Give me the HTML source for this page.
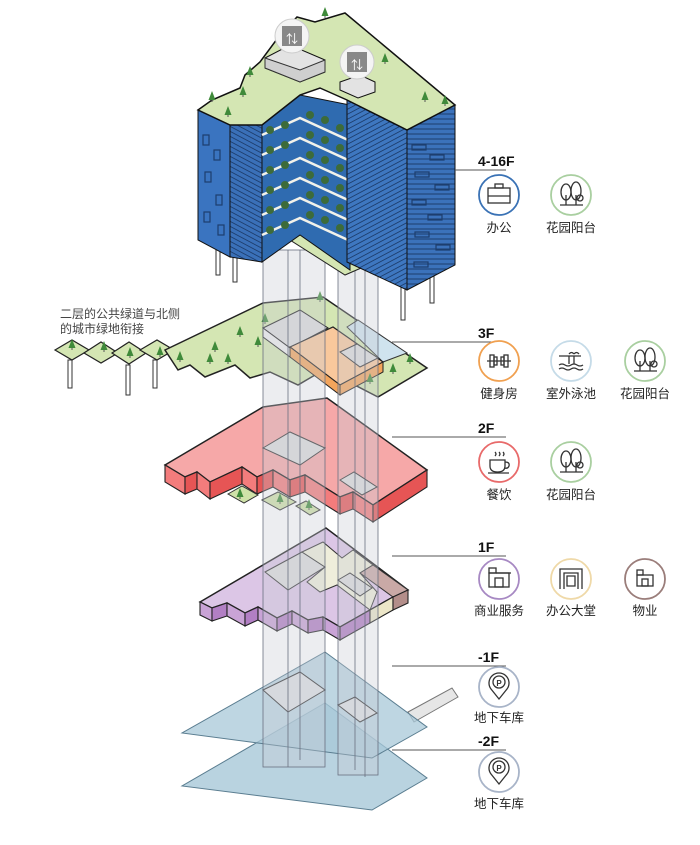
<!DOCTYPE html>
<html><head><meta charset="utf-8"><style>
body{margin:0;background:#fff;width:700px;height:845px;overflow:hidden;font-family:"Liberation Sans","Noto Sans CJK SC",sans-serif}
svg{display:block}
.t{font-family:"Liberation Sans","Noto Sans CJK SC",sans-serif;font-size:12.5px;fill:#222;text-anchor:middle}
.f{font-family:"Liberation Sans",sans-serif;font-size:14px;font-weight:bold;fill:#111}
</style></head><body>
<svg width="700" height="845" viewBox="0 0 700 845" xmlns="http://www.w3.org/2000/svg">
<defs>
<pattern id="st" width="6" height="5" patternUnits="userSpaceOnUse"><rect width="6" height="5" fill="#3b72bb"/><line x1="0" y1="4" x2="6" y2="4" stroke="#1d3e6e" stroke-width="1"/></pattern>
<pattern id="st2" width="6" height="5" patternUnits="userSpaceOnUse" patternTransform="skewY(-28)"><rect width="6" height="5" fill="#3e77c0"/><line x1="0" y1="4" x2="6" y2="4" stroke="#1d3e6e" stroke-width="1"/></pattern>
<pattern id="st3" width="6" height="5" patternUnits="userSpaceOnUse" patternTransform="skewY(28)"><rect width="6" height="5" fill="#3a70b8"/><line x1="0" y1="4" x2="6" y2="4" stroke="#1d3e6e" stroke-width="1"/></pattern>
<g id="tr"><path d="M0,-9 L-3.5,0 L3.5,0 Z" fill="#3f8a3a"/><line x1="0" y1="0" x2="0" y2="2" stroke="#555"/></g>
</defs>

<!-- pilotis -->
<g stroke="#333" stroke-width="1" fill="#fff">
<rect x="216" y="245" width="4" height="30"/><rect x="233" y="250" width="4" height="32"/>
<rect x="401" y="285" width="4" height="35"/><rect x="430" y="275" width="4" height="28"/>
<rect x="68" y="360" width="4" height="28"/><rect x="126" y="365" width="4" height="30"/><rect x="153" y="360" width="4" height="28"/>
</g>

<!-- -2F plane -->
<polygon points="325,703 427,778 372,810 182,786" fill="#a8c8d8" fill-opacity="0.8" stroke="#5a7d90" stroke-width="1"/>
<polygon points="408,712 452,688 458,697 414,722" fill="#e6e6e6" stroke="#777" stroke-width="1"/>
<!-- -1F plane -->
<polygon points="325,652 427,727 372,758 182,733" fill="#a8c8d8" fill-opacity="0.75" stroke="#5a7d90" stroke-width="1"/>
<polygon points="263,690 300,672 325,690 288,712" fill="#dde0e4" stroke="#333"/>
<polygon points="338,705 355,697 377,713 360,722" fill="#dde0e4" stroke="#333"/>

<!-- 1F purple -->
<polygon points="200,602 326,528 408,590 393,597 370,610 340,627 323,617 308,620 292,611 277,618 258,607 245,613 227,603 212,608" fill="#dcc6e6" stroke="#222" stroke-width="1.5"/>
<polygon points="265,572 302,552 325,567 288,590" fill="#dcdcdc" stroke="#333"/>
<polygon points="302,552 323,542 342,558 353,550 373,565 360,573 377,592 370,610 337,585 320,592 307,582 325,567" fill="#efeedb" stroke="#333"/>
<polygon points="338,580 350,573 372,588 360,596" fill="#dcdcdc" stroke="#333"/>
<polygon points="360,573 373,565 408,590 393,597" fill="#c9a9a6" stroke="#333"/>
<g stroke="#222" stroke-width="1.1">
<polygon points="200,602 212,608 212,621 200,615" fill="#c9a3d6"/>
<polygon points="212,608 227,603 227,616 212,621" fill="#b27fc4"/>
<polygon points="227,603 245,613 245,626 227,616" fill="#c9a3d6"/>
<polygon points="245,613 258,607 258,620 245,626" fill="#b27fc4"/>
<polygon points="258,607 277,618 277,631 258,620" fill="#c9a3d6"/>
<polygon points="277,618 292,611 292,624 277,631" fill="#b27fc4"/>
<polygon points="292,611 308,620 308,633 292,624" fill="#c9a3d6"/>
<polygon points="308,620 323,617 323,630 308,633" fill="#b27fc4"/>
<polygon points="323,617 340,627 340,640 323,630" fill="#c9a3d6"/>
<polygon points="340,627 370,610 370,623 340,640" fill="#b27fc4"/>
<polygon points="370,610 393,597 393,610 370,623" fill="#ece6c8"/>
<polygon points="393,597 408,590 408,603 393,610" fill="#b38e8a"/>
</g>

<!-- 2F red -->
<polygon points="165,465 263,407 327,398 427,470 373,505 353,492 340,497 305,475 290,480 273,470 257,477 242,467 210,482 197,472 185,477" fill="#f6a8a8" stroke="#222" stroke-width="1.5"/>
<polygon points="263,448 290,432 325,448 300,465" fill="#dcdcdc" stroke="#333"/>
<polygon points="340,480 354,472 377,487 362,495" fill="#dcdcdc" stroke="#333"/>
<g stroke="#222" stroke-width="1.1">
<polygon points="165,465 185,477 185,494 165,482" fill="#f37c7c"/>
<polygon points="185,477 197,472 197,489 185,494" fill="#e65555"/>
<polygon points="197,472 210,482 210,499 197,489" fill="#f37c7c"/>
<polygon points="210,482 242,467 242,484 210,499" fill="#e65555"/>
<polygon points="242,467 257,477 257,494 242,484" fill="#f37c7c"/>
<polygon points="257,477 273,470 273,487 257,494" fill="#e65555"/>
<polygon points="273,470 290,480 290,497 273,487" fill="#f37c7c"/>
<polygon points="290,480 305,475 305,492 290,497" fill="#e65555"/>
<polygon points="305,475 340,497 340,514 305,492" fill="#f37c7c"/>
<polygon points="340,497 353,492 353,509 340,514" fill="#e65555"/>
<polygon points="353,492 373,505 373,522 353,509" fill="#f37c7c"/>
<polygon points="373,505 427,470 427,487 373,522" fill="#e65555"/>
</g>
<polygon points="228,494 242,486 258,495 244,503" fill="#cfe2a8" stroke="#333"/>
<polygon points="262,500 278,492 296,502 280,510" fill="#cfe2a8" stroke="#333"/>
<polygon points="296,506 306,501 320,510 310,515" fill="#cfe2a8" stroke="#333"/>
<use href="#tr" x="240" y="497"/><use href="#tr" x="280" y="502"/><use href="#tr" x="309" y="508"/>

<!-- 3F green -->
<g stroke="#222" stroke-width="1.2" fill="#d4e6b3">
<polygon points="55,350 72,340 89,350 72,360"/>
<polygon points="84,353 101,342 118,353 101,363"/>
<polygon points="112,353 129,342 146,353 129,364"/>
<polygon points="140,350 157,340 174,350 157,360"/>
</g>
<polygon points="165,350 263,303 323,297 427,368 378,397 345,380 315,375 298,385 270,372 250,378 235,365 205,377 190,365 178,370" fill="#d4e6b3" stroke="#222" stroke-width="1.5"/>
<polygon points="263,328 300,310 328,328 290,348" fill="#dcdcdc" stroke="#222"/>
<polygon points="263,328 290,348 290,357 263,337" fill="#eeeeee" stroke="#222"/>
<polygon points="347,327 358,320 407,353 383,362" fill="#cfe3ee" stroke="#333"/>
<polygon points="290,347 333,327 383,362 340,385" fill="#f9c89c" stroke="#222" stroke-width="1.2"/>
<polygon points="290,347 340,385 340,395 290,357" fill="#f3a55c" stroke="#222"/>
<polygon points="340,385 383,362 383,372 340,395" fill="#f3a55c" stroke="#222"/>
<polygon points="340,352 357,344 378,358 360,367" fill="#dcdcdc" stroke="#333"/>
<g>
<use href="#tr" x="72" y="348"/><use href="#tr" x="104" y="350"/><use href="#tr" x="130" y="356"/><use href="#tr" x="160" y="355"/>
<use href="#tr" x="180" y="360"/><use href="#tr" x="210" y="362"/><use href="#tr" x="215" y="350"/><use href="#tr" x="228" y="362"/>
<use href="#tr" x="258" y="345"/><use href="#tr" x="265" y="322"/><use href="#tr" x="240" y="335"/><use href="#tr" x="320" y="300"/>
<use href="#tr" x="393" y="372"/><use href="#tr" x="370" y="382"/><use href="#tr" x="410" y="362"/>
</g>

<!-- core columns -->
<g fill="#c8ccd4" fill-opacity="0.35" stroke="#6a7080" stroke-width="0.8">
<rect x="263" y="250" width="62" height="517"/>
<rect x="338" y="255" width="40" height="520"/>
</g>
<g stroke="#6a7080" stroke-width="0.8"><line x1="288" y1="250" x2="288" y2="767"/><line x1="300" y1="250" x2="300" y2="760"/><line x1="355" y1="255" x2="355" y2="770"/><line x1="365" y1="255" x2="365" y2="777"/></g>

<!-- building -->
<polygon points="290,240 320,225 375,262 345,275" fill="#d4e6b3" stroke="#222"/>
<polygon points="198,110 230,125 230,257 198,240" fill="#3a74c0" stroke="#111"/>
<g fill="none" stroke="#1d3e6e" stroke-width="1.2">
<rect x="203" y="135" width="6" height="10"/><rect x="214" y="150" width="6" height="10"/><rect x="205" y="172" width="6" height="10"/><rect x="216" y="195" width="6" height="10"/><rect x="204" y="212" width="6" height="10"/><rect x="218" y="225" width="6" height="10"/>
</g>
<polygon points="230,125 262,118 262,262 230,257" fill="url(#st3)" stroke="#111"/>
<polygon points="262,125 300,95 350,105 350,270 300,235 262,262" fill="#2f6bb0" stroke="#111"/>
<g stroke="#f2f2ea" stroke-width="2.5" fill="none">
<polyline points="262,135 300,118 348,140"/><polyline points="262,155 300,138 348,160"/><polyline points="262,175 300,158 348,180"/><polyline points="262,195 300,178 348,200"/><polyline points="262,215 300,198 348,220"/><polyline points="262,235 300,218 348,240"/>
</g>
<g fill="#3d6b3a">
<circle cx="270" cy="130" r="4"/><circle cx="285" cy="125" r="4"/><circle cx="310" cy="115" r="4"/><circle cx="325" cy="120" r="4"/><circle cx="340" cy="128" r="4"/>
<circle cx="270" cy="150" r="4"/><circle cx="285" cy="145" r="4"/><circle cx="310" cy="135" r="4"/><circle cx="325" cy="140" r="4"/><circle cx="340" cy="148" r="4"/>
<circle cx="270" cy="170" r="4"/><circle cx="285" cy="165" r="4"/><circle cx="310" cy="155" r="4"/><circle cx="325" cy="160" r="4"/><circle cx="340" cy="168" r="4"/>
<circle cx="270" cy="190" r="4"/><circle cx="285" cy="185" r="4"/><circle cx="310" cy="175" r="4"/><circle cx="325" cy="180" r="4"/><circle cx="340" cy="188" r="4"/>
<circle cx="270" cy="210" r="4"/><circle cx="285" cy="205" r="4"/><circle cx="310" cy="195" r="4"/><circle cx="325" cy="200" r="4"/><circle cx="340" cy="208" r="4"/>
<circle cx="270" cy="230" r="4"/><circle cx="285" cy="225" r="4"/><circle cx="310" cy="215" r="4"/><circle cx="325" cy="220" r="4"/><circle cx="340" cy="228" r="4"/>
</g>
<polygon points="347,100 407,130 407,290 347,262" fill="url(#st2)" stroke="#111"/>
<polygon points="407,130 455,105 455,265 407,290" fill="url(#st)" stroke="#111"/>
<g fill="none" stroke="#1d3e6e" stroke-width="1.2">
<rect x="412" y="145" width="14" height="5"/><rect x="430" y="155" width="14" height="5"/><rect x="415" y="172" width="14" height="5"/><rect x="435" y="185" width="14" height="5"/><rect x="412" y="200" width="14" height="5"/><rect x="428" y="215" width="14" height="5"/><rect x="415" y="232" width="14" height="5"/><rect x="436" y="245" width="14" height="5"/><rect x="414" y="262" width="14" height="5"/>
</g>
<!-- roof -->
<polygon points="198,110 212,100 240,88 245,75 260,62 280,35 297,17 315,22 345,13 455,105 407,130 347,100 320,88 300,95 262,125 230,125" fill="#d4e6b3" stroke="#111" stroke-width="1.5"/>
<polygon points="265,58 290,45 325,60 325,72 300,82 265,68" fill="#e3e3e3" stroke="#111"/>
<polygon points="265,58 300,70 325,60 325,72 300,82 265,68" fill="#cfcfcf" stroke="#333"/>
<polygon points="340,82 360,75 375,82 375,92 358,98 340,90" fill="#e3e3e3" stroke="#111"/>
<use href="#tr" x="212" y="100"/><use href="#tr" x="228" y="115"/><use href="#tr" x="243" y="95"/><use href="#tr" x="250" y="75"/><use href="#tr" x="325" y="16"/><use href="#tr" x="425" y="100"/><use href="#tr" x="385" y="62"/><use href="#tr" x="445" y="104"/>
<g>
<circle cx="292" cy="36" r="17" fill="#f4f4f4" stroke="#ccc"/><rect x="282" y="26" width="20" height="20" fill="#888"/>
<text x="292" y="43" font-size="12" fill="#fff" text-anchor="middle">⇅</text>
<circle cx="357" cy="62" r="17" fill="#f4f4f4" stroke="#ccc"/><rect x="347" y="52" width="20" height="20" fill="#888"/>
<text x="357" y="69" font-size="12" fill="#fff" text-anchor="middle">⇅</text>
</g>

<!-- annotation lines -->
<g stroke="#555" stroke-width="1">
<line x1="455" y1="170" x2="506" y2="170"/><line x1="392" y1="342" x2="506" y2="342"/><line x1="392" y1="437" x2="506" y2="437"/><line x1="392" y1="556" x2="506" y2="556"/><line x1="392" y1="666" x2="506" y2="666"/><line x1="392" y1="750" x2="506" y2="750"/>
</g>
<text class="f" x="478" y="166">4-16F</text>
<text class="f" x="478" y="338">3F</text>
<text class="f" x="478" y="433">2F</text>
<text class="f" x="478" y="552">1F</text>
<text class="f" x="478" y="662">-1F</text>
<text class="f" x="478" y="746">-2F</text>

<text x="60" y="318" font-size="12" fill="#444" font-family="Liberation Sans,Noto Sans CJK SC,sans-serif">二层的公共绿道与北侧</text>
<text x="60" y="333" font-size="12" fill="#444" font-family="Liberation Sans,Noto Sans CJK SC,sans-serif">的城市绿地衔接</text>

<g fill="#fff" stroke-width="1.8">
<circle cx="499" cy="195" r="20" stroke="#3a72b5"/><circle cx="571" cy="195" r="20" stroke="#a9cfa0"/>
<circle cx="499" cy="361" r="20" stroke="#f0a050"/><circle cx="571" cy="361" r="20" stroke="#c5dbe8"/><circle cx="645" cy="361" r="20" stroke="#a9cfa0"/>
<circle cx="499" cy="462" r="20" stroke="#e86a6a"/><circle cx="571" cy="462" r="20" stroke="#a9cfa0"/>
<circle cx="499" cy="579" r="20" stroke="#a789c3"/><circle cx="571" cy="579" r="20" stroke="#efd9a8"/><circle cx="645" cy="579" r="20" stroke="#9a7d7a"/>
<circle cx="499" cy="687" r="20" stroke="#a8b4c8"/><circle cx="499" cy="772" r="20" stroke="#a8b4c8"/>
</g>
<g fill="none" stroke="#333" stroke-width="1.3">
<rect x="488" y="188" width="22" height="15"/><rect x="495" y="184" width="8" height="4"/><line x1="488" y1="196" x2="510" y2="196"/>
<g transform="translate(571,195)"><ellipse cx="-5" cy="-3" rx="5" ry="8"/><ellipse cx="5" cy="-4" rx="5" ry="9"/><circle cx="9" cy="3" r="3"/><line x1="-11" y1="10" x2="12" y2="10"/><line x1="-5" y1="0" x2="-5" y2="10"/><line x1="5" y1="0" x2="5" y2="10"/></g>
<g transform="translate(645,361)"><ellipse cx="-5" cy="-3" rx="5" ry="8"/><ellipse cx="5" cy="-4" rx="5" ry="9"/><circle cx="9" cy="3" r="3"/><line x1="-11" y1="10" x2="12" y2="10"/><line x1="-5" y1="0" x2="-5" y2="10"/><line x1="5" y1="0" x2="5" y2="10"/></g>
<g transform="translate(571,462)"><ellipse cx="-5" cy="-3" rx="5" ry="8"/><ellipse cx="5" cy="-4" rx="5" ry="9"/><circle cx="9" cy="3" r="3"/><line x1="-11" y1="10" x2="12" y2="10"/><line x1="-5" y1="0" x2="-5" y2="10"/><line x1="5" y1="0" x2="5" y2="10"/></g>
<g transform="translate(499,361)"><line x1="-12" y1="0" x2="12" y2="0"/><rect x="-9" y="-6" width="4" height="12"/><rect x="5" y="-6" width="4" height="12"/><rect x="-5" y="-4" width="3" height="8"/><rect x="2" y="-4" width="3" height="8"/></g>
<g transform="translate(571,361)"><line x1="-12" y1="-5" x2="10" y2="-5"/><path d="M-2,-5 v8 M3,-5 v8 M-2,-7 q2.5,-3 5,0 M3,-7 q2.5,-3 5,0"/><path d="M-12,4 q3,-2 6,0 t6,0 t6,0 t6,0 M-12,8 q3,-2 6,0 t6,0 t6,0 t6,0"/></g>
<g transform="translate(499,462)"><path d="M-9,-2 h15 v6 q0,6 -7.5,6 q-7.5,0 -7.5,-6 Z"/><path d="M6,0 q5,0 4,4 q-1,3 -5,2"/><line x1="-11" y1="11" x2="10" y2="11"/><path d="M-4,-10 q2,2 0,4 M0,-10 q2,2 0,4 M4,-10 q2,2 0,4"/></g>
<g transform="translate(499,579)"><rect x="-10" y="-6" width="20" height="14"/><rect x="-10" y="-11" width="7" height="5"/><rect x="-4" y="-1" width="8" height="9"/><line x1="-3" y1="-6" x2="12" y2="-6"/></g>
<g transform="translate(571,579)"><path d="M-11,10 v-20 h22 v20 M-7,10 v-16 h14 v16 M-4,-3 h8 v10 h-8 z"/></g>
<g transform="translate(645,579)"><rect x="-8" y="-4" width="16" height="11"/><rect x="-8" y="-9" width="6" height="5"/><rect x="-3" y="0" width="6" height="7"/></g>
<g transform="translate(499,687)"><path d="M0,12 L-8,2 A10,10 0 1 1 8,2 Z"/><circle cx="0" cy="-5" r="6"/></g>
<g transform="translate(499,772)"><path d="M0,12 L-8,2 A10,10 0 1 1 8,2 Z"/><circle cx="0" cy="-5" r="6"/></g>
</g>
<g font-size="8" font-weight="bold" fill="#333" text-anchor="middle" font-family="Liberation Sans,sans-serif"><text x="499" y="686">P</text><text x="499" y="771">P</text></g>

<text class="t" x="499" y="232">办公</text><text class="t" x="571" y="232">花园阳台</text>
<text class="t" x="499" y="398">健身房</text><text class="t" x="571" y="398">室外泳池</text><text class="t" x="645" y="398">花园阳台</text>
<text class="t" x="499" y="499">餐饮</text><text class="t" x="571" y="499">花园阳台</text>
<text class="t" x="499" y="615">商业服务</text><text class="t" x="571" y="615">办公大堂</text><text class="t" x="645" y="615">物业</text>
<text class="t" x="499" y="722">地下车库</text><text class="t" x="499" y="808">地下车库</text>
</svg>
</body></html>
